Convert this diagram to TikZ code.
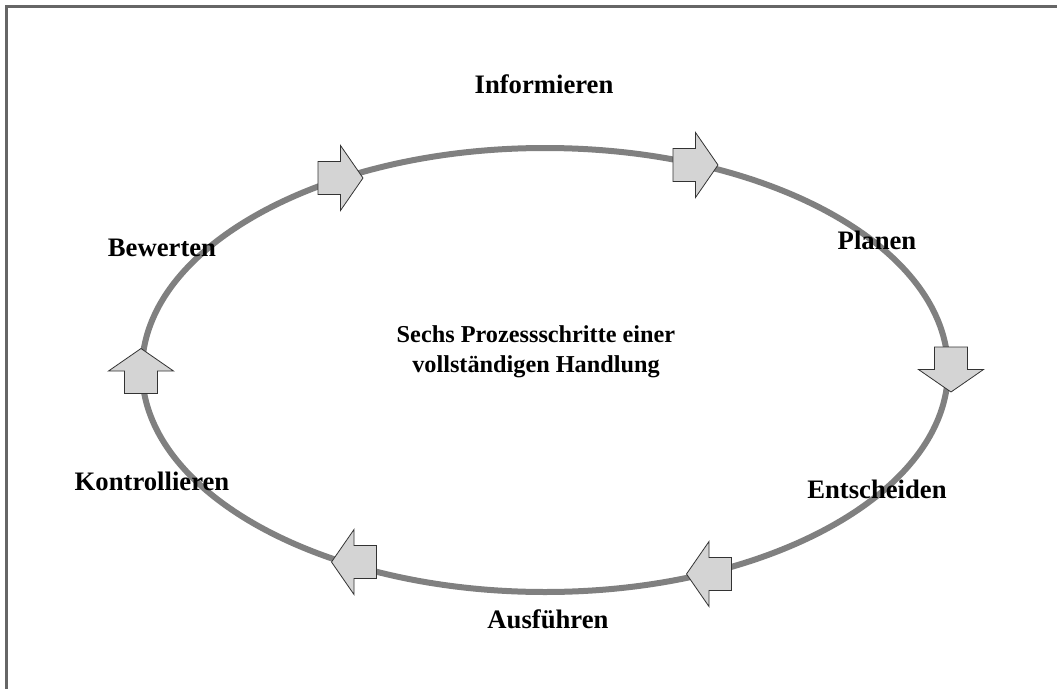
\documentclass[tikz,border=0pt]{standalone}
\usepackage{fontspec}
\setmainfont{Liberation Serif}
\begin{document}
\begin{tikzpicture}[x=0.75pt,y=-0.75pt,
  lbl/.style={font=\fontsize{20}{22.5}\selectfont\bfseries, inner sep=0pt, align=center},
  midlbl/.style={font=\fontsize{18.2}{22.5}\selectfont\bfseries, inner sep=0pt, align=center},
  arrowstyle/.style={draw=black!80, line width=0.6pt, fill=black!17, line join=miter},
  blockarrow/.pic={\draw[arrowstyle] (-22.5,-16.5) -- (0,-16.5) -- (0,-32.5) -- (22.5,0) -- (0,32.5) -- (0,16.5) -- (-22.5,16.5) -- cycle;}]
\useasboundingbox (0,0) rectangle (1057,689);
% frame
\draw[line width=1.6pt, draw=black!60] (6.5,689) -- (6.5,6.5) -- (1057,6.5);
% cycle
\draw[line width=4.5pt, draw=black!50] (545,370) ellipse [x radius=403, y radius=222];
% arrows
\pic at (340.5,178) {blockarrow};
\pic at (695.5,165) {blockarrow};
\pic[rotate=-90] at (951,369.5) {blockarrow};
\pic[rotate=90] at (141,371) {blockarrow};
\pic[rotate=180] at (354,562) {blockarrow};
\pic[rotate=180] at (709,574) {blockarrow};
% labels
\node[lbl] (inf) at (544,84) {Informieren};
\node[lbl] (pla) at (877,240) {Planen};
\node[lbl] (ent) at (877,489) {Entscheiden};
\node[lbl] (aus) at (548,619) {Ausführen};
\node[lbl] (kon) at (152,481) {Kontrollieren};
\node[lbl] (bew) at (162,248) {Bewerten};
\node[midlbl] (mid) at (536,352) {Sechs Prozessschritte einer\\vollständigen Handlung};
\end{tikzpicture}
\end{document}
